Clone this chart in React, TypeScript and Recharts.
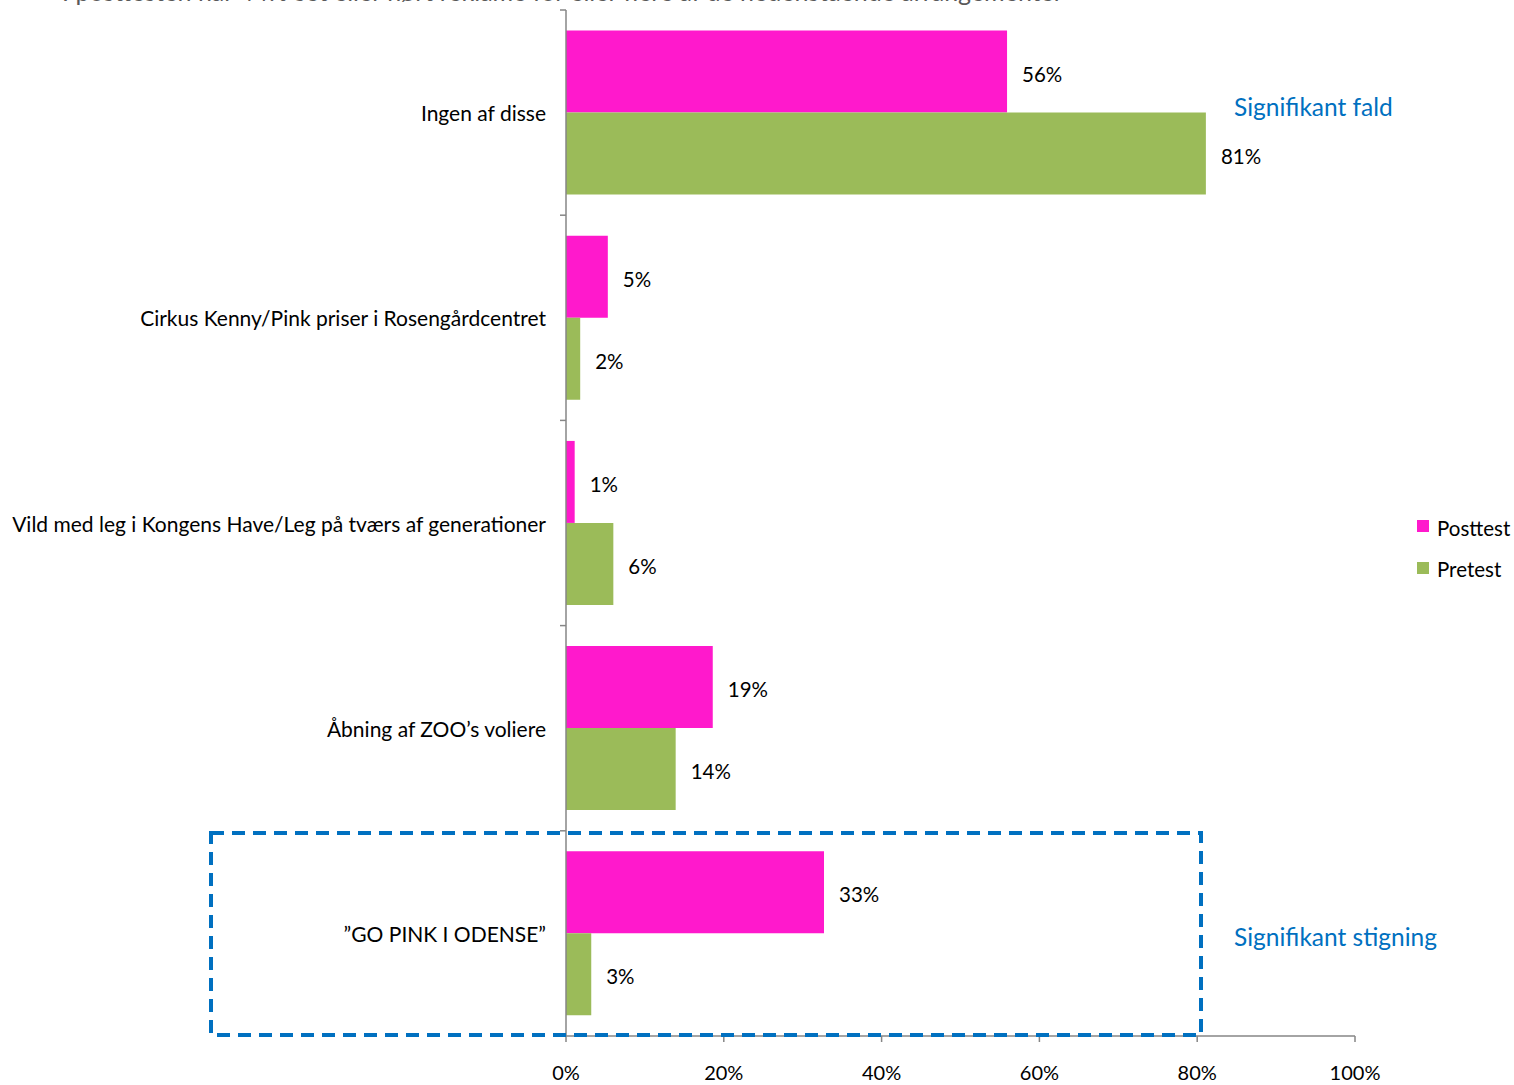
import React from 'react';
import { BarChart, Bar, XAxis, YAxis, LabelList } from 'recharts';

const categories = [
  'Ingen af disse',
  'Cirkus Kenny/Pink priser i Rosengårdcentret',
  'Vild med leg i Kongens Have/Leg på tværs af generationer',
  'Åbning af ZOO’s voliere',
  '”GO PINK I ODENSE”',
];
const posttest = [55.9, 5.3, 1.1, 18.6, 32.7];
const pretest = [81.1, 1.8, 6.0, 13.9, 3.2];
const xTicks = [0, 20, 40, 60, 80, 100];

const data = categories.map((name, i) => ({ name, posttest: posttest[i], pretest: pretest[i] }));

const font = 'Lato, "Open Sans", sans-serif';
const pink = '#FF19CC';
const green = '#9BBB59';
const blue = '#0070C0';
const axisColor = '#868686';

const W = 1514;
const H = 1085;
const top = 10;
const axisH = 49;
const band = (H - top - axisH) / categories.length;

const CategoryTick = (props: any) => {
  const { x, y, payload } = props;
  return (
    <g>
      <line x1={x + 14} x2={x + 20} y1={y - band / 2} y2={y - band / 2} stroke={axisColor} strokeWidth={1.5} />
      <text x={x} y={y} textAnchor="end" dominantBaseline="central" fontSize={21} fill="#000" fontFamily={font}>
        {payload.value}
      </text>
    </g>
  );
};

const fmt = (v: any) => `${Math.round(Number(v))}%`;

const ValueLabel = (props: any) => {
  const { x, y, width, height, value } = props;
  return (
    <text x={x + width + 15} y={y + height / 2 + 2} dominantBaseline="central" fontSize={20.5} fill="#000" fontFamily={font}>
      {fmt(value)}
    </text>
  );
};

export default function App() {
  return (
    <div style={{ position: 'absolute', left: 0, top: 0, width: W, height: H, background: '#fff', overflow: 'hidden' }}>
      <BarChart
        width={W}
        height={H}
        data={data}
        layout="vertical"
        margin={{ top, right: 159, bottom: 0, left: 0 }}
        barCategoryGap="10%"
        barGap={0}
      >
        <XAxis
          type="number"
          domain={[0, 100]}
          ticks={xTicks}
          tickFormatter={(v) => `${v}%`}
          stroke={axisColor}
          strokeWidth={1.5}
          tickSize={6}
          tickMargin={24}
          tick={{ fontSize: 20, fill: '#000', fontFamily: font }}
          height={axisH}
        />
        <YAxis
          type="category"
          dataKey="name"
          width={566}
          stroke={axisColor}
          strokeWidth={1.5}
          tickLine={false}
          tickSize={0}
          tickMargin={20}
          tick={<CategoryTick />}
          interval={0}
        />
        <Bar dataKey="posttest" name="Posttest" fill={pink} isAnimationActive={false}>
          <LabelList dataKey="posttest" content={<ValueLabel />} />
        </Bar>
        <Bar dataKey="pretest" name="Pretest" fill={green} isAnimationActive={false}>
          <LabelList dataKey="pretest" content={<ValueLabel />} />
        </Bar>
      </BarChart>
      <svg width={W} height={H} style={{ position: 'absolute', left: 0, top: 0, pointerEvents: 'none' }}>
        <text x={62} y={1} fontSize={25} fill="#595959" fontFamily={font}>
          I posttesten har 44% set eller hørt reklame for eller flere af de nedenstående arrangementer
        </text>
        <rect x={211} y={833} width={990} height={202} fill="none" stroke={blue} strokeWidth={4} strokeDasharray="13 8" />
        <text x={1234} y={106} fontSize={24.5} fill={blue} fontFamily={font} dominantBaseline="central">
          Signifikant fald
        </text>
        <text x={1234} y={936} fontSize={24.5} fill={blue} fontFamily={font} dominantBaseline="central">
          Signifikant stigning
        </text>
        <rect x={1417} y={520} width={12} height={12} fill={pink} />
        <text x={1437} y={528} fontSize={20.5} fill="#000" fontFamily={font} dominantBaseline="central">Posttest</text>
        <rect x={1417} y={562} width={12} height={12} fill={green} />
        <text x={1437} y={569} fontSize={20.5} fill="#000" fontFamily={font} dominantBaseline="central">Pretest</text>
      </svg>
    </div>
  );
}
